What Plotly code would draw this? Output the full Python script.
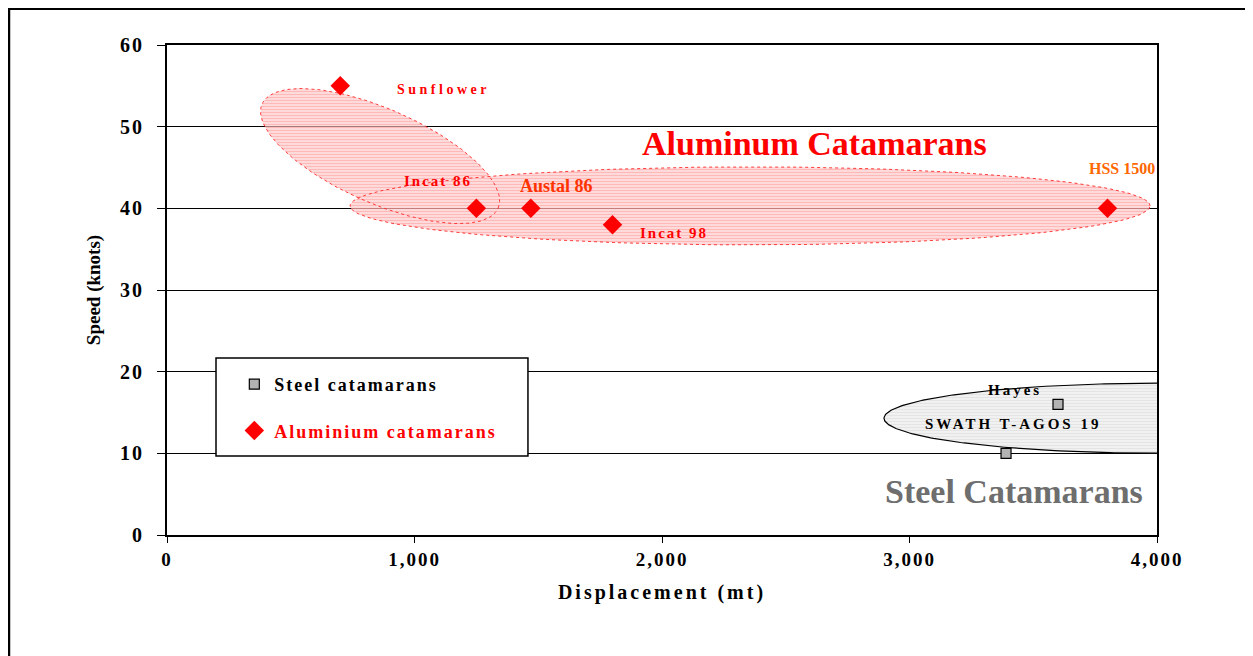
import numpy as np
import plotly.graph_objects as go

# vessel data
steel_names = ["Hayes", "SWATH T-AGOS 19"]
steel_disp = [3600, 3390]
steel_speed = [16, 10]

alu_names = ["Sunflower", "Incat 86", "Austal 86", "Incat 98", "HSS 1500"]
alu_disp = [700, 1250, 1470, 1800, 3800]
alu_speed = [55, 40, 40, 38, 40]

x_ticks = [0, 1000, 2000, 3000, 4000]
x_tick_labels = ["0", "1,000", "2,000", "3,000", "4,000"]
y_ticks = [0, 10, 20, 30, 40, 50, 60]

SERIF = "Liberation Serif, Times New Roman, serif"
# page body has an 8px margin, so the figure is a bit smaller than the window
W, H = 1245, 648
L, R, T, B = 159, 96, 37, 121
PX_X = (W - L - R) / 4000
PX_Y = (H - T - B) / 60


def spaced(text, px, color=None):
    style = f"letter-spacing:{px}px"
    if color:
        style += f";color:{color}"
    return f"<span style='{style}'>{text}</span>"


def ellipse(cx, cy, a_px, b_px, tilt_deg, t0=0, t1=360):
    # ellipse drawn in screen pixels, converted back to data units
    t = np.radians(np.linspace(t0, t1, 181))
    th = np.radians(tilt_deg)
    dx = a_px * np.cos(t) * np.cos(th) - b_px * np.sin(t) * np.sin(th)
    dy = a_px * np.cos(t) * np.sin(th) + b_px * np.sin(t) * np.cos(th)
    return cx + dx / PX_X, cy + dy / PX_Y


fig = go.Figure()

# aluminium highlight: both ellipses in one trace so the overlap is not doubled
hx, hy = [], []
for cx, cy, a, b, tilt in [(2356, 40.3, 400, 39, 0), (861, 46.4, 129, 47, -23.8)]:
    ex, ey = ellipse(cx, cy, a, b, tilt)
    hx += list(ex) + [None]
    hy += list(ey) + [None]
fig.add_trace(go.Scatter(
    x=hx[:-1], y=hy[:-1], mode="lines", fill="toself",
    fillpattern=dict(shape="-", fgcolor="rgba(255,130,130,0.85)", bgcolor="rgba(255,205,205,0.6)",
                     size=3, solidity=0.45),
    line=dict(color="rgba(255,40,40,0.9)", width=1, dash="dot"),
    showlegend=False, hoverinfo="skip"))

ex, ey = ellipse(4000, 14.3, 273, 35, 0, 90, 270)
fig.add_trace(go.Scatter(
    x=ex, y=ey, mode="lines", fill="toself",
    fillpattern=dict(shape="-", fgcolor="#d6d6d6", bgcolor="#f2f2f2", size=3, solidity=0.4),
    line=dict(color="black", width=1.2),
    showlegend=False, hoverinfo="skip"))

fig.add_trace(go.Scatter(
    x=steel_disp, y=steel_speed, mode="markers", name=spaced("Steel catamarans", 2),
    legendgroup="steel", legendrank=1,
    marker=dict(symbol="square", size=10, color="#b3b3b3", line=dict(color="black", width=1.2))))

fig.add_trace(go.Scatter(
    x=alu_disp, y=alu_speed, mode="markers",
    name=spaced("Aluminium catamarans", 2, "#ff0000"),
    legendgroup="alu", legendrank=2,
    marker=dict(symbol="diamond", size=15, color="#ff0000", line=dict(width=0))))

# point labels
alu_label_style = {
    "Sunflower": dict(xanchor="left", xshift=55, yshift=-4, color="#ff0000", size=14, sp=3.5),
    "Incat 86": dict(xanchor="right", xshift=-2, yshift=27, color="#ff0000", size=15, sp=2),
    "Austal 86": dict(xanchor="left", xshift=-13, yshift=22, color="#ff3300", size=18, sp=0),
    "Incat 98": dict(xanchor="left", xshift=25, yshift=-8, color="#ff0000", size=15, sp=2),
    "HSS 1500": dict(xanchor="right", xshift=49, yshift=40, color="#ff6600", size=16, sp=0),
}
for name, x, y in zip(alu_names, alu_disp, alu_speed):
    s = alu_label_style[name]
    fig.add_annotation(x=x, y=y, text=spaced(name, s["sp"]), showarrow=False, xanchor=s["xanchor"],
                       xshift=s["xshift"], yshift=s["yshift"],
                       font=dict(family=SERIF, size=s["size"], color=s["color"], weight="bold"))

steel_label_style = {
    "Hayes": dict(xanchor="right", xshift=-14, yshift=14),
    "SWATH T-AGOS 19": dict(xanchor="center", xshift=7, yshift=29),
}
for name, x, y in zip(steel_names, steel_disp, steel_speed):
    s = steel_label_style[name]
    fig.add_annotation(x=x, y=y, text=spaced(name, 3), showarrow=False, xanchor=s["xanchor"],
                       xshift=s["xshift"], yshift=s["yshift"],
                       font=dict(family=SERIF, size=15, color="black", weight="bold"))

# group captions
fig.add_annotation(x=2618, y=48, text="Aluminum Catamarans", showarrow=False,
                   font=dict(family=SERIF, size=34, color="#ff0000", weight="bold"))
fig.add_annotation(x=3422, y=5.3, text="Steel Catamarans", showarrow=False,
                   font=dict(family=SERIF, size=34, color="#6e6e6e", weight="bold"))

fig.update_layout(
    width=W, height=H,
    margin=dict(l=L, r=R, t=T, b=B),
    paper_bgcolor="white", plot_bgcolor="white",
    font=dict(family=SERIF, color="black"),
    showlegend=True,
    legend=dict(x=0.068, y=0.345, xanchor="left", yanchor="top",
                bgcolor="rgba(0,0,0,0)", borderwidth=0, tracegroupgap=20,
                font=dict(family=SERIF, size=18, color="black", weight="bold")),
    shapes=[
        # outer frame (runs off the right and bottom of the page)
        dict(type="rect", xref="paper", yref="paper", x0=-0.1596, x1=1.3, y0=-0.3, y1=1.074,
             line=dict(color="black", width=2.5), fillcolor="rgba(0,0,0,0)", layer="below"),
        # legend box
        dict(type="rect", xref="paper", yref="paper", x0=0.0495, x1=0.3646, y0=0.1612, y1=0.3612,
             line=dict(color="black", width=1.5), fillcolor="white", layer="above"),
    ],
)

fig.update_xaxes(
    range=[0, 4000], tickvals=x_ticks, ticktext=[spaced(t, 2) for t in x_tick_labels],
    showgrid=False, zeroline=False,
    showline=True, linecolor="black", linewidth=2, mirror=True,
    ticks="outside", ticklen=6, tickcolor="black", ticklabelstandoff=0,
    tickfont=dict(family=SERIF, size=19, weight="bold"),
    title=dict(text=spaced("Displacement (mt)", 3), standoff=16,
               font=dict(family=SERIF, size=20, weight="bold")))

fig.update_yaxes(
    range=[0, 60], tickvals=y_ticks, ticktext=[spaced(str(v), 2) for v in y_ticks],
    showgrid=True, gridcolor="black", gridwidth=1, zeroline=False,
    showline=True, linecolor="black", linewidth=2, mirror=True,
    ticks="outside", ticklen=8, tickcolor="black", ticklabelstandoff=9,
    tickfont=dict(family=SERIF, size=20, weight="bold"),
    title=dict(text="Speed (knots)", standoff=14,
               font=dict(family=SERIF, size=19, weight="bold")))

fig.write_html("out.html")
